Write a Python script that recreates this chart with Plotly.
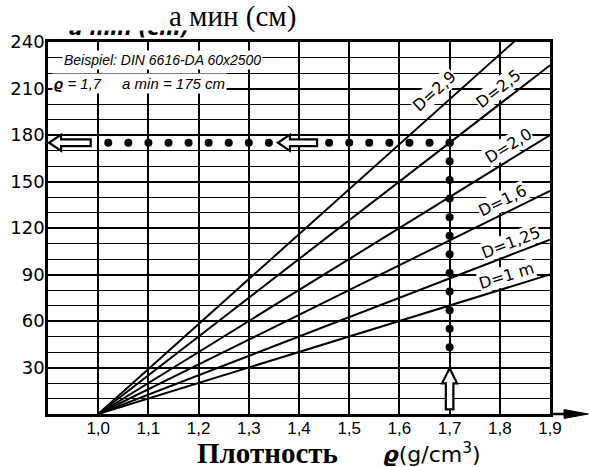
import plotly.graph_objects as go

# ---- data ----
rho_ticks = [1.0, 1.1, 1.2, 1.3, 1.4, 1.5, 1.6, 1.7, 1.8, 1.9]
rho_tick_text = ["1,0", "1,1", "1,2", "1,3", "1,4", "1,5", "1,6", "1,7", "1,8", "1,9"]
a_ticks = [30, 60, 90, 120, 150, 180, 210, 240]
a_minor = [10, 20, 40, 50, 70, 80, 100, 110, 130, 140, 160, 170, 190, 200, 220, 230]

# D lines: start at rho=1.0 (a=0), end at rho=1.9
line_rho = [1.0, 1.9]
D_labels = ["D=1 m", "D=1,25", "D=1,6", "D=2,0", "D=2,5", "D=2,9"]
D_end_a = [90, 112.5, 144, 180, 225, 261]
D_label_rho = [1.814, 1.822, 1.806, 1.818, 1.798, 1.669]
D_label_a = [89.6, 110.9, 137.5, 173.0, 209.9, 208.0]
D_label_angle = [17.1, 21.1, 26.2, 31.6, 37.6, 41.8]

# example: rho = 1.7, a min = 175 cm
ex_rho = 1.7
ex_a = 175
h_dots_rho = [1.02, 1.06, 1.10, 1.14, 1.18, 1.22, 1.26, 1.30, 1.34,
              1.46, 1.50, 1.54, 1.58, 1.62, 1.66, 1.70]
v_dots_a = [175, 163, 151, 139, 127, 115, 103, 91, 79, 67, 55, 43]

# hollow arrows (tip, tail)
h_arrows = [(0.902, 0.985), (1.358, 1.436)]
v_arrow = (29.5, 3.0)

fig = go.Figure()

for lab, end in zip(D_labels, D_end_a):
    fig.add_trace(go.Scatter(x=line_rho, y=[0, end], mode="lines",
                             line=dict(color="black", width=2), hoverinfo="skip",
                             showlegend=False))

fig.add_trace(go.Scatter(x=h_dots_rho, y=[ex_a] * len(h_dots_rho), mode="markers",
                         marker=dict(color="black", size=8), showlegend=False))
fig.add_trace(go.Scatter(x=[ex_rho] * len(v_dots_a), y=v_dots_a, mode="markers",
                         marker=dict(color="black", size=8), showlegend=False))

shapes = []
# horizontal hollow arrows
hl, hh, hs = 0.024, 5.2, 2.2
for tip, tail in h_arrows:
    y = ex_a
    p = (f"M {tip},{y} L {tip+hl},{y+hh} L {tip+hl},{y+hs} L {tail},{y+hs} "
         f"L {tail},{y-hs} L {tip+hl},{y-hs} L {tip+hl},{y-hh} Z")
    shapes.append(dict(type="path", path=p, xref="x", yref="y", fillcolor="white",
                       line=dict(color="black", width=2.2), layer="above"))
# vertical hollow arrow
tip, tail = v_arrow
vl, vh, vs = 9.7, 0.015, 0.0075
x = ex_rho
p = (f"M {x},{tip} L {x+vh},{tip-vl} L {x+vs},{tip-vl} L {x+vs},{tail} "
     f"L {x-vs},{tail} L {x-vs},{tip-vl} L {x-vh},{tip-vl} Z")
shapes.append(dict(type="path", path=p, xref="x", yref="y", fillcolor="white",
                   line=dict(color="black", width=2.2), layer="above"))
# x-axis extension with arrowhead
shapes.append(dict(type="line", xref="paper", yref="paper", x0=1.0, x1=1.05, y0=0, y1=0,
                   line=dict(color="black", width=2.5), layer="above"))
shapes.append(dict(type="path", xref="paper", yref="paper",
                   path="M 1.028,-0.012 L 1.076,0 L 1.028,0.012 Z",
                   fillcolor="black", line=dict(color="black", width=1), layer="above"))

annotations = []
for lab, rx, ay, ang in zip(D_labels, D_label_rho, D_label_a, D_label_angle):
    annotations.append(dict(x=rx, y=ay, xref="x", yref="y", text=lab, showarrow=False,
                            xanchor="center", yanchor="middle",
                            textangle=-ang, bgcolor="white", borderpad=0,
                            font=dict(family="DejaVu Sans", size=16, color="black")))

annotations.append(dict(x=0.928, y=228.5, xref="x", yref="y", xanchor="left", yanchor="middle",
                        text="<i>Beispiel: DIN 6616-DA 60x2500</i>", showarrow=False,
                        bgcolor="white", borderpad=1,
                        font=dict(family="Liberation Sans", size=14, color="black")))
annotations.append(dict(x=0.908, y=213.5, xref="x", yref="y", xanchor="left", yanchor="middle",
                        text="<i><b>ϱ</b> = 1,7     a min = 175 cm</i>", showarrow=False,
                        bgcolor="white", borderpad=1,
                        font=dict(family="Liberation Sans", size=15, color="black")))
# original (cropped) axis title, mostly hidden by a white band above it
annotations.append(dict(x=0.161, y=1.0, xref="paper", yref="paper", xanchor="center",
                        yanchor="bottom", yshift=0, text="<b><i>a min (cm)</i></b>",
                        showarrow=False,
                        font=dict(family="DejaVu Sans", size=20, color="black")))
annotations.append(dict(x=0.4, y=1.0, xref="paper", yref="paper", xanchor="center",
                        yanchor="bottom", yshift=11, text="\u00a0", width=580, height=40,
                        showarrow=False, bgcolor="white", borderpad=0,
                        font=dict(size=10, color="white")))
annotations.append(dict(x=0.3685, y=1.069, xref="paper", yref="paper", xanchor="center",
                        yanchor="middle", text="а мин (см)", showarrow=False,
                        font=dict(family="Liberation Serif", size=29, color="black")))
annotations.append(dict(x=0.438, y=-0.106, xref="paper", yref="paper", xanchor="center",
                        yanchor="middle", text="<b>Плотность</b>", showarrow=False,
                        font=dict(family="Liberation Serif", size=29, color="black")))
annotations.append(dict(x=0.764, y=-0.104, xref="paper", yref="paper", xanchor="center",
                        yanchor="middle", text="<b><i>ϱ</i></b>(g/cm<sup>3</sup>)",
                        showarrow=False,
                        font=dict(family="DejaVu Sans", size=22, color="black")))

fig.update_layout(
    width=589, height=467,
    margin=dict(l=48, r=39, t=42, b=53, autoexpand=False),
    paper_bgcolor="white", plot_bgcolor="white",
    showlegend=False,
    shapes=shapes, annotations=annotations,
    xaxis=dict(range=[0.9, 1.9], tickmode="array", tickvals=rho_ticks, ticktext=rho_tick_text,
               automargin=False,
               showgrid=True, gridcolor="black", gridwidth=2, zeroline=False,
               showline=True, mirror=True, linecolor="black", linewidth=2.5,
               ticks="", ticklabelstandoff=-3,
               tickfont=dict(family="Liberation Sans", size=17, color="black")),
    yaxis=dict(range=[0, 240], tickmode="array", tickvals=a_ticks, automargin=False,
               showgrid=True, gridcolor="black", gridwidth=1.8, zeroline=False,
               showline=True, mirror=True, linecolor="black", linewidth=2.5,
               ticks="", ticklabelstandoff=-3,
               minor=dict(tickmode="array", tickvals=a_minor, showgrid=True,
                          gridcolor="black", gridwidth=1.3),
               tickfont=dict(family="DejaVu Sans", size=18, color="black")),
)

fig.write_html("out.html", config={"displayModeBar": False},
               post_script="document.body.style.margin='0';")
